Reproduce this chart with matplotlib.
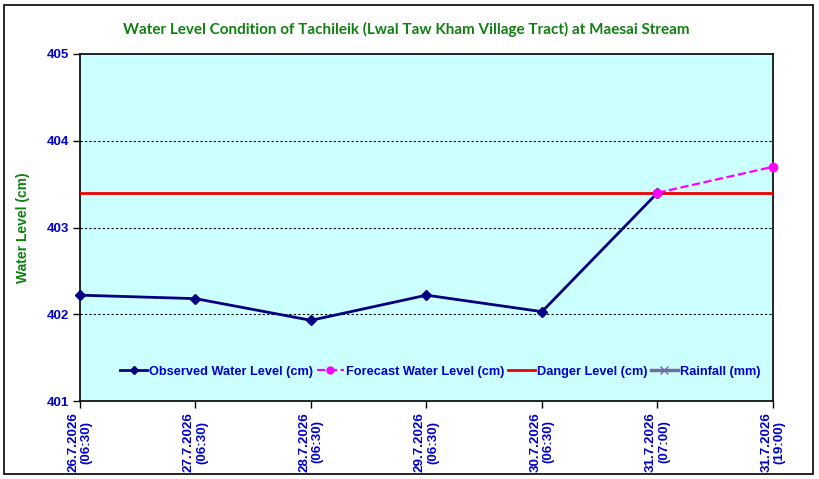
import numpy as np
import matplotlib
matplotlib.use('Agg')
import matplotlib.pyplot as plt
from matplotlib.lines import Line2D
from matplotlib.patches import Rectangle

# data
dates = ['26.7.2026\n(06:30)', '27.7.2026\n(06:30)', '28.7.2026\n(06:30)',
         '29.7.2026\n(06:30)', '30.7.2026\n(06:30)', '31.7.2026\n(07:00)',
         '31.7.2026\n(19:00)']
observed = [402.22, 402.18, 401.93, 402.22, 402.03, 403.40]
forecast_idx = [5, 6]
forecast = [403.40, 403.70]
danger = 403.40
yticks = [401, 402, 403, 404, 405]

blue = '#0000CC'
green = '#108010'

fig = plt.figure(figsize=(8.2, 4.79), dpi=100)
ax = fig.add_axes([80/820, 1-401/479, 693/820, 347/479])
ax.set_facecolor('#CCFFFF')

# chart frame like spreadsheet object
fig.patches.append(Rectangle((4/820, 1-474/479), 809/820, 469/479, transform=fig.transFigure,
                             fill=False, edgecolor='black', lw=1.2))

x = np.arange(len(dates))
ax.axhline(danger, color='#EE0000', lw=2, zorder=3)
ax.plot(x[:len(observed)], observed, color='#000080', lw=2, marker='D', ms=5, zorder=4, clip_on=False)
ax.plot(forecast_idx, forecast, color='#FF00FF', lw=1.6, ls='--', marker='o', ms=6, zorder=5, clip_on=False)

for y in yticks[1:-1]:
    ax.axhline(y, color='black', lw=0.8, ls=(0, (2, 2)), zorder=1)

ax.set_xlim(0, 6)
ax.set_ylim(401, 405)
ax.set_yticks(yticks)
ax.set_xticks(x)
ax.set_xticklabels(dates, rotation=90, ha='center', va='top', linespacing=1.15)
ax.tick_params(axis='both', direction='out', length=5, width=1, pad=3)
for lab in ax.get_yticklabels() + ax.get_xticklabels():
    lab.set_color(blue)
    lab.set_fontweight('bold')
    lab.set_fontfamily('Liberation Sans')
for lab in ax.get_yticklabels():
    lab.set_fontsize(9.5)
for lab in ax.get_xticklabels():
    lab.set_fontsize(9.6)
for s in ax.spines.values():
    s.set_linewidth(1.2)

ax.set_ylabel('Water Level (cm)', color=green, fontweight='bold', fontsize=10,
              family='Liberation Sans', labelpad=12)
fig.text(406/820, 1-29/479, 'Water Level Condition of Tachileik (Lwal Taw Kham Village Tract) at Maesai Stream',
         color=green, fontweight='bold', fontsize=11, family='Lato', ha='center', va='center')

handles = [
    Line2D([], [], color='#000080', lw=2, marker='D', ms=4),
    Line2D([], [], color='#FF00FF', lw=1.6, ls='--', marker='o', ms=5),
    Line2D([], [], color='#EE0000', lw=2),
    Line2D([], [], color='#7070A0', lw=2.5, marker='x', ms=6),
]
labels = ['Observed Water Level (cm)', 'Forecast Water Level (cm)', 'Danger Level (cm)', 'Rainfall (mm)']
leg = ax.legend(handles, labels, loc='center', bbox_to_anchor=(0.52, 0.085), ncol=4, frameon=False,
                handlelength=2.1, handletextpad=0.15, columnspacing=0.3,
                prop={'family': 'Liberation Sans', 'size': 9.2, 'weight': 'bold'})
for t in leg.get_texts():
    t.set_color(blue)

fig.savefig('out.png', dpi=100)
